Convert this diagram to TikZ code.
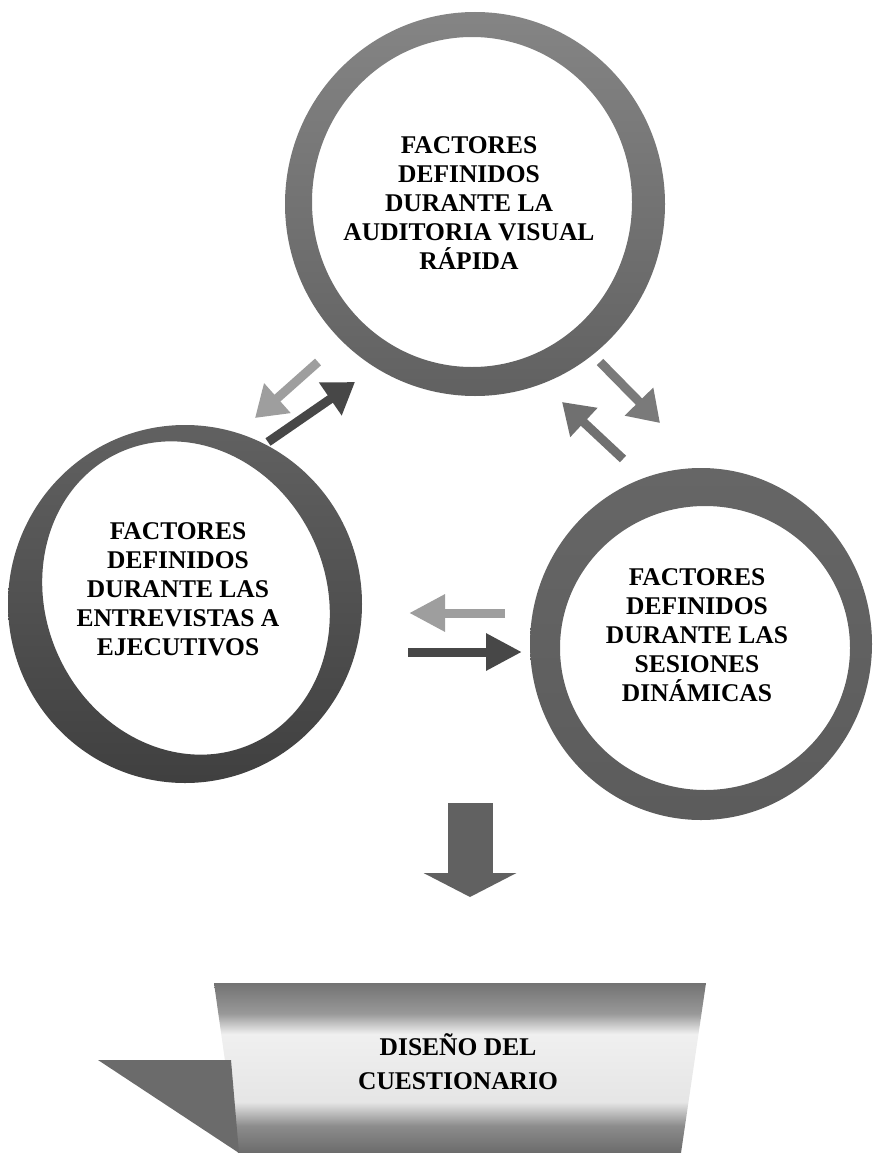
\documentclass[tikz,border=0pt]{standalone}
\usepackage{fontspec}
\setmainfont{Liberation Serif}
\usetikzlibrary{arrows.meta}
% light band through the middle of the banner (path spans 25bp..75bp)
\pgfdeclareverticalshading{bandshade}{100bp}{%
  color(0bp)=(black!58); color(25bp)=(black!58); color(33bp)=(black!45);
  color(40bp)=(black!10); color(60bp)=(black!6); color(66bp)=(black!40);
  color(75bp)=(black!55); color(100bp)=(black!55)}
\tikzset{
  ring/.style={even odd rule},
  lbl/.style={font=\fontsize{25.5}{29}\selectfont\bfseries, align=center, text=black, inner sep=0pt},
  banlbl/.style={font=\fontsize{25.5}{34}\selectfont\bfseries, align=center, text=black, inner sep=0pt},
  diagarrow/.style={line width=9pt, -{Triangle[length=30pt,width=38pt]}},
  flatarrow/.style={line width=9pt, -{Triangle[length=36pt,width=35pt]}},
  downarrow/.style={line width=45pt, -{Triangle[length=24pt,width=92pt]}},
}
\begin{document}
\begin{tikzpicture}[x=1pt,y=-1pt]
\useasboundingbox (0,0) rectangle (874,1153);

% --- three rings ---
\shade[ring, top color=black!48, bottom color=black!62]
  (475,204) ellipse [x radius=190, y radius=192]
  (472,202) ellipse [x radius=160, y radius=165];
\shade[ring, top color=black!62, bottom color=black!75]
  (185,604) ellipse [x radius=177, y radius=179]
  (186,598) ellipse [x radius=160, y radius=140, rotate=-65];
\shade[ring, top color=black!60, bottom color=black!64]
  (701,644) ellipse [x radius=171, y radius=176]
  (705,648) ellipse [x radius=145, y radius=142];

% --- ring labels ---
\node[lbl] (audit) at (469,203)
  {FACTORES\\DEFINIDOS\\DURANTE LA\\AUDITORIA VISUAL\\RÁPIDA};
\node[lbl] (entrev) at (178,589)
  {FACTORES\\DEFINIDOS\\DURANTE LAS\\ENTREVISTAS A\\EJECUTIVOS};
\node[lbl] (sesion) at (697,635)
  {FACTORES\\DEFINIDOS\\DURANTE LAS\\SESIONES\\DINÁMICAS};

% --- arrow end points ---
\coordinate (a1s) at (318,362); \coordinate (a1e) at (255,418);
\coordinate (a2s) at (268,442); \coordinate (a2e) at (355,382);
\coordinate (a3s) at (600,362); \coordinate (a3e) at (660,423);
\coordinate (a4s) at (623,459); \coordinate (a4e) at (562,402);
\coordinate (a5s) at (505,613); \coordinate (a5e) at (409,613);
\coordinate (a6s) at (408,652); \coordinate (a6e) at (522,652);
\coordinate (a7s) at (470,803); \coordinate (a7e) at (470,897);

% --- arrows between the rings ---
\draw[diagarrow, black!38] (a1s) -- (a1e);
\draw[diagarrow, black!72] (a2s) -- (a2e);
\draw[diagarrow, black!52] (a3s) -- (a3e);
\draw[diagarrow, black!56] (a4s) -- (a4e);
\draw[flatarrow, black!38] (a5s) -- (a5e);
\draw[flatarrow, black!72] (a6s) -- (a6e);
\draw[downarrow, black!62] (a7s) -- (a7e);

% --- banner ---
\shade[shading=bandshade]
  (214,983) -- (706,983) -- (681,1153) -- (238,1153) -- cycle;
\fill[black!58] (98,1060) -- (231,1060) -- (239,1153) -- cycle;
\node[banlbl] (diseno) at (458,1062) {DISEÑO DEL\\CUESTIONARIO};
\end{tikzpicture}
\end{document}
